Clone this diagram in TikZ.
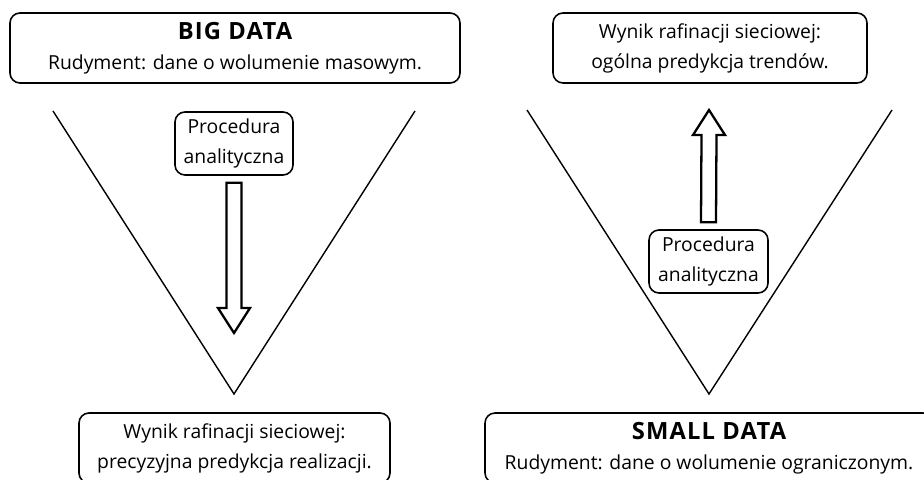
\documentclass[tikz,border=0pt]{standalone}
\usepackage{fontspec}
\setmainfont{Open Sans}
\usetikzlibrary{calc}
\newcommand{\datatitle}[1]{{\fontsize{13.5}{18}\selectfont\bfseries\addfontfeatures{LetterSpace=5}#1}}
\tikzset{
  box/.style={draw, rounded corners=0.2cm, line width=0.9pt, align=center,
    inner sep=0pt, font=\fontsize{11}{17}\selectfont},
  fatarrow/.style={draw, line width=1.3pt, line join=miter},
  vline/.style={line width=0.8pt}
}
\begin{document}
\begin{tikzpicture}
  \useasboundingbox (0,0) rectangle (18.48,9.58);
  % left funnel
  \draw[vline] (1.06,7.36) -- (4.68,1.70) -- (8.30,7.36);
  % right funnel
  \draw[vline] (10.54,7.38) -- (14.18,1.70) -- (17.84,7.38);
  \node[box, minimum width=9.0cm, minimum height=1.4cm] (big) at (4.70,8.62)
    {\datatitle{BIG DATA}\\Rudyment: dane o wolumenie masowym.};
  \node[box, minimum width=6.22cm, minimum height=1.4cm] (precise) at (4.69,0.62)
    {Wynik rafinacji sieciowej:\\precyzyjna predykcja realizacji.};
  \node[box, minimum width=6.28cm, minimum height=1.4cm] (general) at (14.20,8.62)
    {Wynik rafinacji sieciowej:\\ogólna predykcja trendów.};
  \node[box, minimum width=8.96cm, minimum height=1.4cm] (small) at (14.18,0.62)
    {\datatitle{SMALL DATA}\\Rudyment: dane o wolumenie ograniczonym.};
  \node[box, minimum width=2.36cm, minimum height=1.26cm] (procL) at (4.68,6.71)
    {Procedura\\analityczna};
  \node[box, minimum width=2.38cm, minimum height=1.26cm] (procR) at (14.17,4.35)
    {Procedura\\analityczna};
  % fat arrow down
  \coordinate (sL) at ($(procL.south)+(0,-0.14)$);
  \coordinate (tL) at (4.68,2.92);
  \draw[fatarrow] ($(sL)+(-0.15,0)$) -- ($(tL)+(-0.15,0.5)$) -- ($(tL)+(-0.32,0.5)$)
    -- (tL) -- ($(tL)+(0.32,0.5)$) -- ($(tL)+(0.15,0.5)$) -- ($(sL)+(0.15,0)$) -- cycle;
  % fat arrow up
  \coordinate (sR) at ($(procR.north)+(0,0.14)$);
  \coordinate (tR) at (14.18,7.38);
  \draw[fatarrow] ($(sR)+(-0.15,0)$) -- ($(tR)+(-0.15,-0.5)$) -- ($(tR)+(-0.32,-0.5)$)
    -- (tR) -- ($(tR)+(0.32,-0.5)$) -- ($(tR)+(0.15,-0.5)$) -- ($(sR)+(0.15,0)$) -- cycle;
\end{tikzpicture}
\end{document}
